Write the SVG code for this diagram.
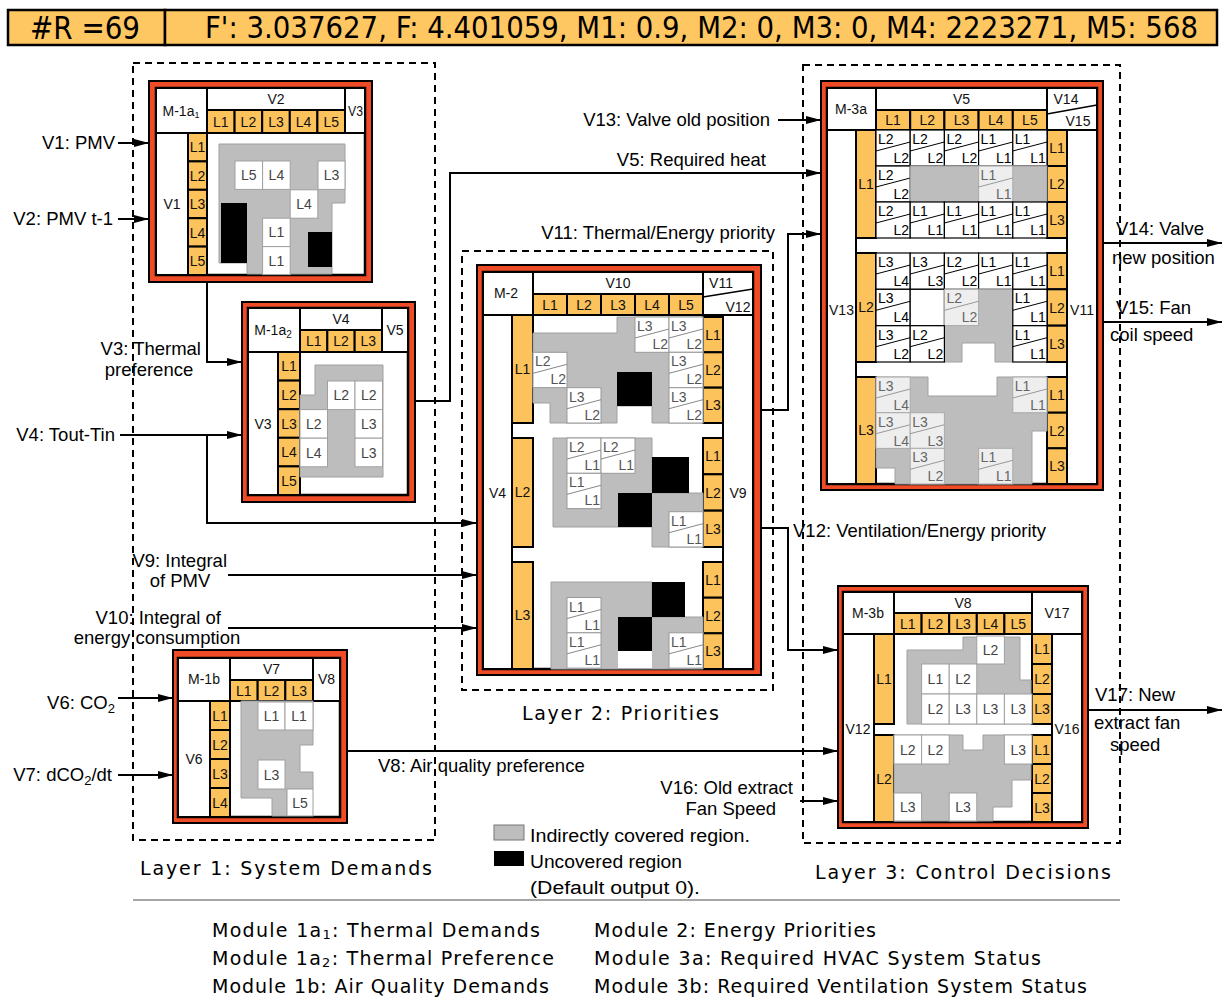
<svg xmlns="http://www.w3.org/2000/svg" width="1223" height="1001" viewBox="0 0 1223 1001">
<defs>
<style>
text{font-family:"Liberation Sans",Arial,sans-serif}
.red{fill:#EE4B26;stroke:#000;stroke-width:2}
.in{fill:#fff;stroke:#000;stroke-width:2.5}
.hc{fill:#fff;stroke:#000;stroke-width:2}
.or{fill:#FCC25C;stroke:#000;stroke-width:2}
.gr{fill:#BDBDBD;stroke:#A0A0A0;stroke-width:1}
.wc{fill:#fff;stroke:#A0A0A0;stroke-width:1}
.bk{fill:#000}
.m{font-size:14px;text-anchor:middle;fill:#111}
.c{font-size:14px;text-anchor:middle;fill:#444}
.lb{font-size:18.5px;fill:#000}
.r{text-anchor:end}
.mid{text-anchor:middle}
.con{fill:none;stroke:#000;stroke-width:2;marker-end:url(#ah)}
.ln{fill:none;stroke:#000;stroke-width:2}
.dash{fill:none;stroke:#000;stroke-width:2;stroke-dasharray:7 5}
.sb rect{fill:#fff;stroke:#000;stroke-width:1.2}
.sb line{stroke:#000;stroke-width:1}
.sb text{font-size:14px;fill:#000}
.sg rect{fill:#fff;stroke:#999;stroke-width:1}
.sg line{stroke:#888;stroke-width:1}
.sg text{font-size:14px;fill:#555}
.sl rect{fill:#fff;fill-opacity:.75;stroke:#aaa;stroke-width:1}
.sl line{stroke:#999;stroke-width:1}
.sl text{font-size:14px;fill:#666}
.e{text-anchor:end}
.hdr{fill:#FFC761;stroke:#000;stroke-width:2.5}
.big{font-family:"Liberation Sans Narrow","DejaVu Sans Condensed","Liberation Sans",sans-serif}
.lay{font-family:"DejaVu Sans","Liberation Sans",sans-serif;font-size:19px}
.bot{font-family:"DejaVu Sans","Liberation Sans",sans-serif;font-size:19px}
.leg{font-size:18px}
</style>
<marker id="ah" markerUnits="userSpaceOnUse" markerWidth="16" markerHeight="10" refX="15" refY="5" orient="auto"><path d="M0,1 L15,5 L0,9 z" fill="#000"/></marker>
</defs>
<rect width="1223" height="1001" fill="#fff"/>

<g id="header">
<rect class="hdr" x="8" y="10" width="157" height="35"/>
<rect class="hdr" x="165" y="10" width="1052" height="35"/>
<text class="big" x="30" y="39" font-size="32" textLength="110" lengthAdjust="spacingAndGlyphs">#R =69</text>
<text class="big" x="205" y="38" font-size="30" textLength="993" lengthAdjust="spacingAndGlyphs">F': 3.037627, F: 4.401059, M1: 0.9, M2: 0, M3: 0, M4: 2223271, M5: 568</text>
</g>

<g id="layers">
<rect class="dash" x="133" y="63" width="302" height="777"/>
<rect class="dash" x="462" y="251" width="311" height="439"/>
<rect class="dash" x="803" y="65" width="317" height="778"/>
<text class="lay" x="140" y="875" textLength="292" lengthAdjust="spacing">Layer 1: System Demands</text>
<text class="lay" x="522" y="720" textLength="197" lengthAdjust="spacing">Layer 2: Priorities</text>
<text class="lay" x="815" y="879" textLength="296" lengthAdjust="spacing">Layer 3: Control Decisions</text>
</g>

<!-- M-1a1 -->
<g id="m1a1">
<rect class="red" x="149" y="81" width="223" height="201"/>
<rect class="in" x="156" y="88" width="209" height="187"/>
<rect class="hc" x="156" y="88" width="51" height="45"/>
<text class="m" x="181" y="116">M-1a<tspan font-size="9" dy="2">1</tspan></text>
<rect class="hc" x="207" y="88" width="138" height="22"/>
<text class="m" x="276" y="104">V2</text>
<rect class="hc" x="345" y="88" width="20" height="45"/>
<text class="m" x="355.5" y="116" font-size="13" textLength="15" lengthAdjust="spacingAndGlyphs">V3</text>
<rect class="or" x="207" y="110" width="27.6" height="23"/><text class="m" x="220.8" y="127">L1</text>
<rect class="or" x="234.6" y="110" width="27.6" height="23"/><text class="m" x="248.4" y="127">L2</text>
<rect class="or" x="262.2" y="110" width="27.6" height="23"/><text class="m" x="276" y="127">L3</text>
<rect class="or" x="289.8" y="110" width="27.6" height="23"/><text class="m" x="303.6" y="127">L4</text>
<rect class="or" x="317.4" y="110" width="27.6" height="23"/><text class="m" x="331.2" y="127">L5</text>
<rect class="hc" x="156" y="133" width="32" height="142"/>
<text class="m" x="172" y="209">V1</text>
<rect class="or" x="188" y="133" width="19" height="28.4"/><text class="m" x="197.5" y="152">L1</text>
<rect class="or" x="188" y="161.4" width="19" height="28.4"/><text class="m" x="197.5" y="180.5">L2</text>
<rect class="or" x="188" y="189.8" width="19" height="28.4"/><text class="m" x="197.5" y="209">L3</text>
<rect class="or" x="188" y="218.2" width="19" height="28.4"/><text class="m" x="197.5" y="237.5">L4</text>
<rect class="or" x="188" y="246.6" width="19" height="28.4"/><text class="m" x="197.5" y="266">L5</text>
<polygon class="gr" points="219,144 345,144 345,203 332,203 332,274 247,274 247,263 219,263"/>
<rect class="bk" x="221" y="203" width="26" height="60"/>
<rect class="bk" x="308" y="232" width="24" height="35"/>
<rect class="wc" x="235" y="161" width="27.6" height="28.4"/><text class="c" x="248.8" y="180">L5</text>
<rect class="wc" x="262.6" y="161" width="27.6" height="28.4"/><text class="c" x="276.4" y="180">L4</text>
<rect class="wc" x="318" y="161" width="27" height="28.4"/><text class="c" x="331.5" y="180">L3</text>
<rect class="wc" x="290.2" y="189.8" width="27.6" height="28.4"/><text class="c" x="304" y="209">L4</text>
<rect class="wc" x="262.6" y="218.2" width="27.6" height="28.4"/><text class="c" x="276.4" y="237">L1</text>
<rect class="wc" x="262.6" y="246.6" width="27.6" height="28"/><text class="c" x="276.4" y="266">L1</text>
</g>

<!-- M-1a2 -->
<g id="m1a2">
<rect class="red" x="242" y="302" width="173" height="200"/>
<rect class="in" x="248" y="308" width="160" height="187"/>
<rect class="hc" x="248" y="308" width="52" height="44"/>
<text class="m" x="273" y="335">M-1a<tspan font-size="10" dy="3">2</tspan></text>
<rect class="hc" x="300" y="308" width="82" height="22"/>
<text class="m" x="341" y="324">V4</text>
<rect class="or" x="300" y="330" width="27.33" height="22"/><text class="m" x="313.7" y="346">L1</text>
<rect class="or" x="327.33" y="330" width="27.33" height="22"/><text class="m" x="341" y="346">L2</text>
<rect class="or" x="354.67" y="330" width="27.33" height="22"/><text class="m" x="368.3" y="346">L3</text>
<rect class="hc" x="382" y="308" width="26" height="44"/>
<text class="m" x="395" y="335">V5</text>
<rect class="hc" x="248" y="352" width="30" height="143"/>
<text class="m" x="263" y="429">V3</text>
<rect class="or" x="278" y="352" width="22" height="28.6"/><text class="m" x="289" y="371">L1</text>
<rect class="or" x="278" y="380.6" width="22" height="28.6"/><text class="m" x="289" y="400">L2</text>
<rect class="or" x="278" y="409.2" width="22" height="28.6"/><text class="m" x="289" y="428.5">L3</text>
<rect class="or" x="278" y="437.8" width="22" height="28.6"/><text class="m" x="289" y="457">L4</text>
<rect class="or" x="278" y="466.4" width="22" height="28.6"/><text class="m" x="289" y="485.5">L5</text>
<polygon class="gr" points="315,365 383,365 383,477 300,477 300,395 315,395"/>
<rect class="wc" x="327.5" y="381" width="27.5" height="28.6"/><text class="c" x="341.2" y="400">L2</text>
<rect class="wc" x="355" y="381" width="27.5" height="28.6"/><text class="c" x="368.7" y="400">L2</text>
<rect class="wc" x="300" y="409.6" width="27.5" height="28.6"/><text class="c" x="313.7" y="429">L2</text>
<rect class="wc" x="355" y="409.6" width="27.5" height="28.6"/><text class="c" x="368.7" y="429">L3</text>
<rect class="wc" x="300" y="438.2" width="27.5" height="28.6"/><text class="c" x="313.7" y="457.5">L4</text>
<rect class="wc" x="355" y="438.2" width="27.5" height="28.6"/><text class="c" x="368.7" y="457.5">L3</text>
</g>

<!-- M-1b -->
<g id="m1b">
<rect class="red" x="173" y="650" width="174" height="173"/>
<rect class="in" x="178" y="658" width="162" height="159"/>
<rect class="hc" x="178" y="658" width="52" height="43"/>
<text class="m" x="204" y="684">M-1b</text>
<rect class="hc" x="230" y="658" width="83" height="22"/>
<text class="m" x="271.5" y="674">V7</text>
<rect class="or" x="230" y="680" width="27.67" height="21"/><text class="m" x="243.8" y="695.5">L1</text>
<rect class="or" x="257.67" y="680" width="27.67" height="21"/><text class="m" x="271.5" y="695.5">L2</text>
<rect class="or" x="285.33" y="680" width="27.67" height="21"/><text class="m" x="299.2" y="695.5">L3</text>
<rect class="hc" x="313" y="658" width="27" height="43"/>
<text class="m" x="326.5" y="684">V8</text>
<rect class="hc" x="178" y="701" width="32" height="116"/>
<text class="m" x="194" y="764">V6</text>
<rect class="or" x="210" y="701" width="20" height="29"/><text class="m" x="220" y="720.5">L1</text>
<rect class="or" x="210" y="730" width="20" height="29"/><text class="m" x="220" y="749.5">L2</text>
<rect class="or" x="210" y="759" width="20" height="29"/><text class="m" x="220" y="778.5">L3</text>
<rect class="or" x="210" y="788" width="20" height="29"/><text class="m" x="220" y="807.5">L4</text>
<polygon class="gr" points="241,701 313,701 313,745 300,745 300,772 313,772 313,789 287,789 287,816 272,816 272,798 241,798"/>
<rect class="wc" x="258" y="702" width="27" height="28"/><text class="c" x="271.5" y="721">L1</text>
<rect class="wc" x="285" y="702" width="28" height="28"/><text class="c" x="299" y="721">L1</text>
<rect class="wc" x="258" y="760" width="27" height="29"/><text class="c" x="271.5" y="779.5">L3</text>
<rect class="wc" x="287" y="789" width="26" height="27"/><text class="c" x="300" y="808">L5</text>
</g>

<!-- M-2 -->
<g id="m2">
<rect class="red" x="477" y="265" width="284" height="410"/>
<rect class="in" x="483" y="272" width="270" height="397"/>
<rect class="hc" x="483" y="272" width="50" height="43"/>
<text class="m" x="506" y="298">M-2</text>
<rect class="hc" x="533" y="272" width="170" height="22"/>
<text class="m" x="618" y="288">V10</text>
<rect class="or" x="533" y="294" width="34" height="21"/><text class="m" x="550" y="310">L1</text>
<rect class="or" x="567" y="294" width="34" height="21"/><text class="m" x="584" y="310">L2</text>
<rect class="or" x="601" y="294" width="34" height="21"/><text class="m" x="618" y="310">L3</text>
<rect class="or" x="635" y="294" width="34" height="21"/><text class="m" x="652" y="310">L4</text>
<rect class="or" x="669" y="294" width="34" height="21"/><text class="m" x="686" y="310">L5</text>
<rect class="hc" x="703" y="272" width="50" height="43"/>
<line x1="703" y1="297" x2="753" y2="289" stroke="#000" stroke-width="1.5"/>
<text class="m" x="721" y="288">V11</text>
<text class="m" x="738" y="312">V12</text>
<rect class="hc" x="483" y="315" width="29" height="354"/>
<text class="m" x="497.5" y="498">V4</text>
<rect class="hc" x="723" y="315" width="30" height="354"/>
<text class="m" x="738" y="498">V9</text>
<rect class="or" x="512" y="315" width="21" height="108"/><text class="m" x="522.5" y="374">L1</text>
<rect class="or" x="512" y="438" width="21" height="109"/><text class="m" x="522.5" y="497">L2</text>
<rect class="or" x="512" y="562" width="21" height="107"/><text class="m" x="522.5" y="620">L3</text>
<rect class="or" x="703" y="317" width="20" height="35.3"/><text class="m" x="713" y="339.6">L1</text>
<rect class="or" x="703" y="352.3" width="20" height="35.3"/><text class="m" x="713" y="375">L2</text>
<rect class="or" x="703" y="387.7" width="20" height="35.3"/><text class="m" x="713" y="410.3">L3</text>
<rect class="or" x="703" y="438" width="20" height="36.3"/><text class="m" x="713" y="461">L1</text>
<rect class="or" x="703" y="474.3" width="20" height="36.3"/><text class="m" x="713" y="497.5">L2</text>
<rect class="or" x="703" y="510.7" width="20" height="36.3"/><text class="m" x="713" y="533.8">L3</text>
<rect class="or" x="703" y="562" width="20" height="35.7"/><text class="m" x="713" y="584.8">L1</text>
<rect class="or" x="703" y="597.7" width="20" height="35.7"/><text class="m" x="713" y="620.5">L2</text>
<rect class="or" x="703" y="633.3" width="20" height="35.7"/><text class="m" x="713" y="656.2">L3</text>
<!-- group 1 -->
<polygon class="gr" points="533,333 617,333 617,317 703,317 703,423 652,423 652,406 617,406 617,423 550,423 550,403 533,403"/>
<rect class="bk" x="617" y="372" width="35" height="34"/>
<g class="sg" transform="translate(635,317)"><rect width="34" height="35.3"/><line x1="0" y1="21" x2="34" y2="12"/><text x="2" y="14">L3</text><text class="e" x="33" y="32">L2</text></g>
<g class="sg" transform="translate(669,317)"><rect width="34" height="35.3"/><line x1="0" y1="21" x2="34" y2="12"/><text x="2" y="14">L3</text><text class="e" x="33" y="32">L2</text></g>
<g class="sg" transform="translate(533,352.3)"><rect width="34" height="35.3"/><line x1="0" y1="21" x2="34" y2="12"/><text x="2" y="14">L2</text><text class="e" x="33" y="32">L2</text></g>
<g class="sg" transform="translate(669,352.3)"><rect width="34" height="35.3"/><line x1="0" y1="21" x2="34" y2="12"/><text x="2" y="14">L3</text><text class="e" x="33" y="32">L2</text></g>
<g class="sg" transform="translate(567,387.7)"><rect width="34" height="35.3"/><line x1="0" y1="21" x2="34" y2="12"/><text x="2" y="14">L3</text><text class="e" x="33" y="32">L2</text></g>
<g class="sg" transform="translate(669,387.7)"><rect width="34" height="35.3"/><line x1="0" y1="21" x2="34" y2="12"/><text x="2" y="14">L3</text><text class="e" x="33" y="32">L2</text></g>
<!-- group 2 -->
<polygon class="gr" points="553,438 652,438 652,493 703,493 703,547 652,547 652,527 553,527"/>
<rect class="bk" x="652" y="457" width="37" height="36"/>
<rect class="bk" x="618" y="493" width="34" height="34"/>
<g class="sg" transform="translate(567,438)"><rect width="34" height="35.3"/><line x1="0" y1="21" x2="34" y2="12"/><text x="2" y="14">L2</text><text class="e" x="33" y="32">L1</text></g>
<g class="sg" transform="translate(601,438)"><rect width="34" height="35.3"/><line x1="0" y1="21" x2="34" y2="12"/><text x="2" y="14">L2</text><text class="e" x="33" y="32">L1</text></g>
<g class="sg" transform="translate(567,473.3)"><rect width="34" height="35.3"/><line x1="0" y1="21" x2="34" y2="12"/><text x="2" y="14">L1</text><text class="e" x="33" y="32">L1</text></g>
<g class="sg" transform="translate(669,511.7)"><rect width="34" height="35.3"/><line x1="0" y1="21" x2="34" y2="12"/><text x="2" y="14">L1</text><text class="e" x="33" y="32">L1</text></g>
<!-- group 3 -->
<polygon class="gr" points="551,582 652,582 652,617 703,617 703,669 551,669"/>
<rect class="bk" x="652" y="582" width="33" height="35"/>
<rect class="bk" x="618" y="617" width="34" height="34"/>
<rect x="618" y="651" width="34" height="17" fill="#fff"/>
<g class="sg" transform="translate(567,597.5)"><rect width="34" height="35.3"/><line x1="0" y1="21" x2="34" y2="12"/><text x="2" y="14">L1</text><text class="e" x="33" y="32">L1</text></g>
<g class="sg" transform="translate(567,632.8)"><rect width="34" height="35.3"/><line x1="0" y1="21" x2="34" y2="12"/><text x="2" y="14">L1</text><text class="e" x="33" y="32">L1</text></g>
<g class="sg" transform="translate(669,632.8)"><rect width="34" height="35.3"/><line x1="0" y1="21" x2="34" y2="12"/><text x="2" y="14">L1</text><text class="e" x="33" y="32">L1</text></g>
</g>

<!-- M-3a -->
<g id="m3a">
<rect class="red" x="821" y="81" width="282" height="409"/>
<rect class="in" x="827" y="88" width="270" height="396"/>
<rect class="hc" x="827" y="88" width="49" height="42"/>
<text class="m" x="851" y="114">M-3a</text>
<rect class="hc" x="876" y="88" width="171" height="22"/>
<text class="m" x="961.5" y="104">V5</text>
<rect class="or" x="876" y="110" width="34.2" height="20"/><text class="m" x="893.1" y="125">L1</text>
<rect class="or" x="910.2" y="110" width="34.2" height="20"/><text class="m" x="927.3" y="125">L2</text>
<rect class="or" x="944.4" y="110" width="34.2" height="20"/><text class="m" x="961.5" y="125">L3</text>
<rect class="or" x="978.6" y="110" width="34.2" height="20"/><text class="m" x="995.7" y="125">L4</text>
<rect class="or" x="1012.8" y="110" width="34.2" height="20"/><text class="m" x="1029.9" y="125">L5</text>
<rect class="hc" x="1047" y="88" width="50" height="42"/>
<line x1="1047" y1="114" x2="1097" y2="105" stroke="#000" stroke-width="1.5"/>
<text class="m" x="1066" y="104">V14</text>
<text class="m" x="1078" y="126">V15</text>
<rect class="hc" x="827" y="130" width="29" height="354"/>
<text class="m" x="841.5" y="315">V13</text>
<rect class="hc" x="1067" y="130" width="30" height="354"/>
<text class="m" x="1082" y="315">V11</text>
<rect class="or" x="856" y="130" width="20" height="108"/><text class="m" x="866" y="189">L1</text>
<rect class="or" x="856" y="253" width="20" height="109"/><text class="m" x="866" y="312">L2</text>
<rect class="or" x="856" y="377" width="20" height="107"/><text class="m" x="866" y="435">L3</text>
<rect class="or" x="1047" y="130" width="20" height="36"/><text class="m" x="1057" y="153">L1</text>
<rect class="or" x="1047" y="166" width="20" height="36"/><text class="m" x="1057" y="189">L2</text>
<rect class="or" x="1047" y="202" width="20" height="36"/><text class="m" x="1057" y="225">L3</text>
<rect class="or" x="1047" y="253" width="20" height="36.3"/><text class="m" x="1057" y="276">L1</text>
<rect class="or" x="1047" y="289.3" width="20" height="36.3"/><text class="m" x="1057" y="312.5">L2</text>
<rect class="or" x="1047" y="325.7" width="20" height="36.3"/><text class="m" x="1057" y="348.8">L3</text>
<rect class="or" x="1047" y="377" width="20" height="35.7"/><text class="m" x="1057" y="399.8">L1</text>
<rect class="or" x="1047" y="412.7" width="20" height="35.7"/><text class="m" x="1057" y="435.5">L2</text>
<rect class="or" x="1047" y="448.3" width="20" height="35.7"/><text class="m" x="1057" y="471.2">L3</text>
<!-- group 1 -->
<g class="sb" transform="translate(876,130)"><rect width="34.2" height="36"/><line x1="0" y1="21" x2="34.2" y2="12"/><text x="2" y="14">L2</text><text class="e" x="33" y="33">L2</text></g>
<g class="sb" transform="translate(910.2,130)"><rect width="34.2" height="36"/><line x1="0" y1="21" x2="34.2" y2="12"/><text x="2" y="14">L2</text><text class="e" x="33" y="33">L2</text></g>
<g class="sb" transform="translate(944.4,130)"><rect width="34.2" height="36"/><line x1="0" y1="21" x2="34.2" y2="12"/><text x="2" y="14">L2</text><text class="e" x="33" y="33">L2</text></g>
<g class="sb" transform="translate(978.6,130)"><rect width="34.2" height="36"/><line x1="0" y1="21" x2="34.2" y2="12"/><text x="2" y="14">L1</text><text class="e" x="33" y="33">L1</text></g>
<g class="sb" transform="translate(1012.8,130)"><rect width="34.2" height="36"/><line x1="0" y1="21" x2="34.2" y2="12"/><text x="2" y="14">L1</text><text class="e" x="33" y="33">L1</text></g>
<g class="sb" transform="translate(876,166)"><rect width="34.2" height="36"/><line x1="0" y1="21" x2="34.2" y2="12"/><text x="2" y="14">L2</text><text class="e" x="33" y="33">L2</text></g>
<rect class="gr" x="910.2" y="166" width="136.8" height="36"/>
<g class="sl" transform="translate(978.6,166)"><rect width="34.2" height="36"/><line x1="0" y1="21" x2="34.2" y2="12"/><text x="2" y="14">L1</text><text class="e" x="33" y="33">L1</text></g>
<g class="sb" transform="translate(876,202)"><rect width="34.2" height="36"/><line x1="0" y1="21" x2="34.2" y2="12"/><text x="2" y="14">L2</text><text class="e" x="33" y="33">L2</text></g>
<g class="sb" transform="translate(910.2,202)"><rect width="34.2" height="36"/><line x1="0" y1="21" x2="34.2" y2="12"/><text x="2" y="14">L1</text><text class="e" x="33" y="33">L1</text></g>
<g class="sb" transform="translate(944.4,202)"><rect width="34.2" height="36"/><line x1="0" y1="21" x2="34.2" y2="12"/><text x="2" y="14">L1</text><text class="e" x="33" y="33">L1</text></g>
<g class="sb" transform="translate(978.6,202)"><rect width="34.2" height="36"/><line x1="0" y1="21" x2="34.2" y2="12"/><text x="2" y="14">L1</text><text class="e" x="33" y="33">L1</text></g>
<g class="sb" transform="translate(1012.8,202)"><rect width="34.2" height="36"/><line x1="0" y1="21" x2="34.2" y2="12"/><text x="2" y="14">L1</text><text class="e" x="33" y="33">L1</text></g>
<!-- group 2 -->
<g class="sb" transform="translate(876,253)"><rect width="34.2" height="36.3"/><line x1="0" y1="21" x2="34.2" y2="12"/><text x="2" y="14">L3</text><text class="e" x="33" y="33">L4</text></g>
<g class="sb" transform="translate(910.2,253)"><rect width="34.2" height="36.3"/><line x1="0" y1="21" x2="34.2" y2="12"/><text x="2" y="14">L3</text><text class="e" x="33" y="33">L3</text></g>
<g class="sb" transform="translate(944.4,253)"><rect width="34.2" height="36.3"/><line x1="0" y1="21" x2="34.2" y2="12"/><text x="2" y="14">L2</text><text class="e" x="33" y="33">L2</text></g>
<g class="sb" transform="translate(978.6,253)"><rect width="34.2" height="36.3"/><line x1="0" y1="21" x2="34.2" y2="12"/><text x="2" y="14">L1</text><text class="e" x="33" y="33">L1</text></g>
<g class="sb" transform="translate(1012.8,253)"><rect width="34.2" height="36.3"/><line x1="0" y1="21" x2="34.2" y2="12"/><text x="2" y="14">L1</text><text class="e" x="33" y="33">L1</text></g>
<g class="sb" transform="translate(876,289.3)"><rect width="34.2" height="36.3"/><line x1="0" y1="21" x2="34.2" y2="12"/><text x="2" y="14">L3</text><text class="e" x="33" y="33">L4</text></g>
<rect x="910.2" y="289.3" width="34.2" height="36.3" fill="#fff" stroke="#000" stroke-width="1.2"/>
<polygon class="gr" points="944.4,289.3 1012.8,289.3 1012.8,362 995,362 995,343 962,343 962,362 944.4,362"/>
<g class="sl" transform="translate(944.4,289.3)"><rect width="34.2" height="36.3"/><line x1="0" y1="21" x2="34.2" y2="12"/><text x="2" y="14">L2</text><text class="e" x="33" y="33">L2</text></g>
<g class="sb" transform="translate(1012.8,289.3)"><rect width="34.2" height="36.3"/><line x1="0" y1="21" x2="34.2" y2="12"/><text x="2" y="14">L1</text><text class="e" x="33" y="33">L1</text></g>
<g class="sb" transform="translate(876,325.7)"><rect width="34.2" height="36.3"/><line x1="0" y1="21" x2="34.2" y2="12"/><text x="2" y="14">L3</text><text class="e" x="33" y="33">L2</text></g>
<g class="sb" transform="translate(910.2,325.7)"><rect width="34.2" height="36.3"/><line x1="0" y1="21" x2="34.2" y2="12"/><text x="2" y="14">L2</text><text class="e" x="33" y="33">L2</text></g>
<g class="sb" transform="translate(1012.8,325.7)"><rect width="34.2" height="36.3"/><line x1="0" y1="21" x2="34.2" y2="12"/><text x="2" y="14">L1</text><text class="e" x="33" y="33">L1</text></g>
<!-- group 3 -->
<polygon class="gr" points="876,377 928,377 928,396 997,396 997,377 1047,377 1047,431 1032,431 1032,484 895,484 895,468 876,468"/>
<g class="sl" transform="translate(876,377)"><rect width="34.2" height="35.7"/><line x1="0" y1="21" x2="34.2" y2="12"/><text x="2" y="14">L3</text><text class="e" x="33" y="33">L4</text></g>
<g class="sl" transform="translate(876,412.7)"><rect width="34.2" height="35.7"/><line x1="0" y1="21" x2="34.2" y2="12"/><text x="2" y="14">L3</text><text class="e" x="33" y="33">L4</text></g>
<g class="sl" transform="translate(910.2,412.7)"><rect width="34.2" height="35.7"/><line x1="0" y1="21" x2="34.2" y2="12"/><text x="2" y="14">L3</text><text class="e" x="33" y="33">L3</text></g>
<g class="sl" transform="translate(910.2,448.3)"><rect width="34.2" height="35.7"/><line x1="0" y1="21" x2="34.2" y2="12"/><text x="2" y="14">L3</text><text class="e" x="33" y="33">L2</text></g>
<g class="sl" transform="translate(1012.8,377)"><rect width="34.2" height="35.7"/><line x1="0" y1="21" x2="34.2" y2="12"/><text x="2" y="14">L1</text><text class="e" x="33" y="33">L1</text></g>
<g class="sl" transform="translate(978.6,448.3)"><rect width="34.2" height="35.7"/><line x1="0" y1="21" x2="34.2" y2="12"/><text x="2" y="14">L1</text><text class="e" x="33" y="33">L1</text></g>
</g>

<!-- M-3b -->
<g id="m3b">
<rect class="red" x="838" y="586" width="250" height="242"/>
<rect class="in" x="843" y="592" width="239" height="230"/>
<rect class="hc" x="843" y="592" width="51" height="42"/>
<text class="m" x="868" y="618">M-3b</text>
<rect class="hc" x="894" y="592" width="138" height="21"/>
<text class="m" x="963" y="608">V8</text>
<rect class="or" x="894" y="613" width="27.6" height="21"/><text class="m" x="907.8" y="628.5">L1</text>
<rect class="or" x="921.6" y="613" width="27.6" height="21"/><text class="m" x="935.4" y="628.5">L2</text>
<rect class="or" x="949.2" y="613" width="27.6" height="21"/><text class="m" x="963" y="628.5">L3</text>
<rect class="or" x="976.8" y="613" width="27.6" height="21"/><text class="m" x="990.6" y="628.5">L4</text>
<rect class="or" x="1004.4" y="613" width="27.6" height="21"/><text class="m" x="1018.2" y="628.5">L5</text>
<rect class="hc" x="1032" y="592" width="50" height="42"/>
<text class="m" x="1057" y="618">V17</text>
<rect class="hc" x="843" y="634" width="31" height="188"/>
<text class="m" x="858" y="734">V12</text>
<rect class="hc" x="1052" y="634" width="30" height="188"/>
<text class="m" x="1067" y="734">V16</text>
<rect class="or" x="874" y="634" width="20" height="90"/><text class="m" x="884" y="684">L1</text>
<rect class="or" x="874" y="735" width="20" height="87"/><text class="m" x="884" y="783.5">L2</text>
<rect class="or" x="1032" y="634" width="20" height="30"/><text class="m" x="1042" y="654">L1</text>
<rect class="or" x="1032" y="664" width="20" height="30"/><text class="m" x="1042" y="684">L2</text>
<rect class="or" x="1032" y="694" width="20" height="30"/><text class="m" x="1042" y="714">L3</text>
<rect class="or" x="1032" y="735" width="20" height="29"/><text class="m" x="1042" y="754.5">L1</text>
<rect class="or" x="1032" y="764" width="20" height="29"/><text class="m" x="1042" y="783.5">L2</text>
<rect class="or" x="1032" y="793" width="20" height="29"/><text class="m" x="1042" y="812.5">L3</text>
<polygon class="gr" points="907,650 963,650 963,637 1020,637 1020,680 1031,680 1031,724 907,724"/>
<rect class="wc" x="976.8" y="636" width="27.6" height="28"/><text class="c" x="990.6" y="655">L2</text>
<rect class="wc" x="921.6" y="664" width="27.6" height="30"/><text class="c" x="935.4" y="684">L1</text>
<rect class="wc" x="949.2" y="664" width="27.6" height="30"/><text class="c" x="963" y="684">L2</text>
<rect class="wc" x="921.6" y="694" width="27.6" height="30"/><text class="c" x="935.4" y="714">L2</text>
<rect class="wc" x="949.2" y="694" width="27.6" height="30"/><text class="c" x="963" y="714">L3</text>
<rect class="wc" x="976.8" y="694" width="27.6" height="30"/><text class="c" x="990.6" y="714">L3</text>
<rect class="wc" x="1004.4" y="694" width="27.6" height="30"/><text class="c" x="1018.2" y="714">L3</text>
<polygon class="gr" points="894,735 963,735 963,750 983,750 983,735 1031,735 1031,780 1012,780 1012,807 993,807 993,821 894,821"/>
<rect class="wc" x="894" y="735" width="27.6" height="29"/><text class="c" x="907.8" y="754.5">L2</text>
<rect class="wc" x="921.6" y="735" width="27.6" height="29"/><text class="c" x="935.4" y="754.5">L2</text>
<rect class="wc" x="1004.4" y="735" width="27.6" height="29"/><text class="c" x="1018.2" y="754.5">L3</text>
<rect class="wc" x="894" y="793" width="27.6" height="28"/><text class="c" x="907.8" y="812">L3</text>
<rect class="wc" x="949.2" y="793" width="27.6" height="28"/><text class="c" x="963" y="812">L3</text>
</g>

<!-- connectors -->
<g id="connectors">
<path class="con" d="M118,143 H149"/>
<path class="con" d="M118,219 H149"/>
<path class="con" d="M207,282 V362 H242"/>
<path class="con" d="M120,435 H242"/>
<path class="con" d="M207,435 V523 H477"/>
<path class="con" d="M415,401 H450 V173 H821"/>
<path class="con" d="M778,120 H821"/>
<path class="con" d="M761,410 H788 V234 H821"/>
<path class="con" d="M761,528 H788 V650 H838"/>
<path class="con" d="M228,575 H477"/>
<path class="con" d="M228,628 H477"/>
<path class="con" d="M118,698 H173"/>
<path class="con" d="M118,775 H173"/>
<path class="con" d="M347,751 H838"/>
<path class="con" d="M800,801 H838"/>
<path class="con" d="M1103,243 H1222"/>
<path class="con" d="M1103,322 H1222"/>
<path class="con" d="M1088,710 H1222"/>
</g>

<g id="labels">
<text class="lb r" x="115" y="149">V1: PMV</text>
<text class="lb r" x="113" y="225">V2: PMV t-1</text>
<text class="lb r" x="201" y="355">V3: Thermal</text>
<text class="lb mid" x="149" y="376">preference</text>
<text class="lb r" x="115" y="441">V4: Tout-Tin</text>
<text class="lb r" x="227" y="567">V9: Integral</text>
<text class="lb mid" x="180" y="587">of PMV</text>
<text class="lb r" x="221" y="624">V10: Integral of</text>
<text class="lb mid" x="157" y="644">energy consumption</text>
<text class="lb r" x="115" y="709">V6: CO<tspan font-size="13" dy="4">2</tspan></text>
<text class="lb r" x="112" y="781">V7: dCO<tspan font-size="13" dy="4">2</tspan><tspan dy="-4">/dt</tspan></text>
<text class="lb" x="378" y="772">V8: Air quality preference</text>
<text class="lb r" x="770" y="126">V13: Valve old position</text>
<text class="lb r" x="766" y="166">V5: Required heat</text>
<text class="lb r" x="775" y="239">V11: Thermal/Energy priority</text>
<text class="lb" x="793" y="537">V12: Ventilation/Energy priority</text>
<text class="lb r" x="793" y="794">V16: Old extract</text>
<text class="lb r" x="776" y="815">Fan Speed</text>
<text class="lb" x="1116" y="235">V14: Valve</text>
<text class="lb" x="1112" y="264">new position</text>
<text class="lb" x="1116" y="314">V15: Fan</text>
<text class="lb" x="1110" y="341">coil speed</text>
<text class="lb" x="1095" y="701">V17: New</text>
<text class="lb" x="1094" y="729">extract fan</text>
<text class="lb" x="1110" y="751">speed</text>
</g>

<g id="legend">
<rect x="494" y="825" width="30" height="15" fill="#BDBDBD" stroke="#777" stroke-width="1"/>
<rect x="494" y="851" width="30" height="15" fill="#000"/>
<text class="leg" x="530" y="842" textLength="220" lengthAdjust="spacingAndGlyphs">Indirectly covered region.</text>
<text class="leg" x="530" y="868" textLength="152" lengthAdjust="spacingAndGlyphs">Uncovered region</text>
<text class="leg" x="530" y="894" textLength="170" lengthAdjust="spacingAndGlyphs">(Default output 0).</text>
</g>

<g id="footer">
<line x1="133" y1="900" x2="1120" y2="900" stroke="#888" stroke-width="1.5"/>
<text class="bot" x="212" y="937" textLength="328" lengthAdjust="spacing">Module 1a<tspan font-size="13" dy="2">1</tspan><tspan dy="-2">: Thermal Demands</tspan></text>
<text class="bot" x="212" y="965" textLength="342" lengthAdjust="spacing">Module 1a<tspan font-size="13" dy="2">2</tspan><tspan dy="-2">: Thermal Preference</tspan></text>
<text class="bot" x="212" y="993" textLength="337" lengthAdjust="spacing">Module 1b: Air Quality Demands</text>
<text class="bot" x="594" y="937" textLength="282" lengthAdjust="spacing">Module 2: Energy Priorities</text>
<text class="bot" x="594" y="965" textLength="447" lengthAdjust="spacing">Module 3a: Required HVAC System Status</text>
<text class="bot" x="594" y="993" textLength="493" lengthAdjust="spacing">Module 3b: Required Ventilation System Status</text>
</g>
</svg>
